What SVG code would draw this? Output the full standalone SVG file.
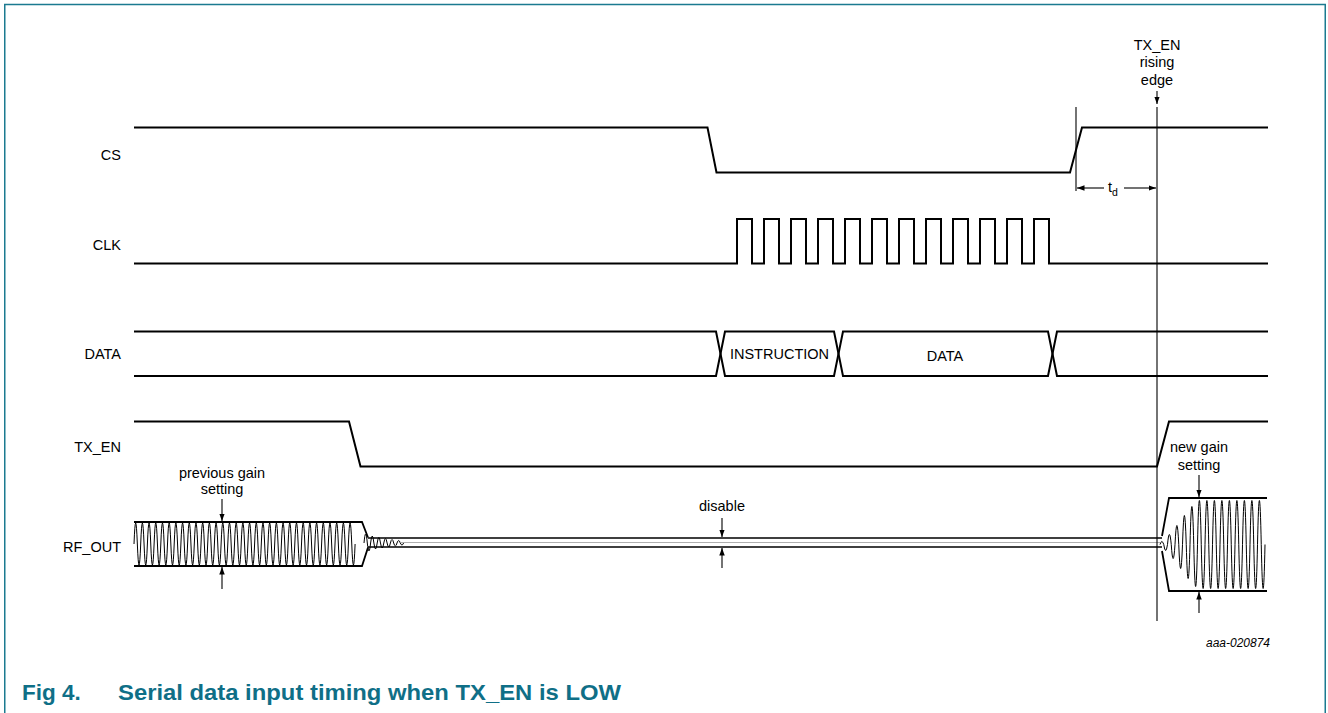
<svg xmlns="http://www.w3.org/2000/svg" width="1328" height="713" viewBox="0 0 1328 713">
<style>
.sig{fill:none;stroke:#000;stroke-width:2;stroke-linejoin:miter}
.thin{fill:none;stroke:#000;stroke-width:1.1}
.wave{fill:none;stroke:#000;stroke-width:1}
.env{fill:none;stroke:#000;stroke-width:1.8}
.dis{fill:none;stroke:#000;stroke-width:1.3}
.lbl{font-family:"Liberation Sans",Arial,Helvetica,sans-serif;font-size:14.5px;fill:#000}
.ctr{text-anchor:middle}
.end{text-anchor:end}
.arr{fill:none;stroke:#000;stroke-width:1.1;marker-end:url(#ah)}
.cap{font-family:"Liberation Sans",Arial,Helvetica,sans-serif;font-size:22.5px;font-weight:bold;fill:#0f6f87}
</style>
<defs>
<marker id="ah" markerUnits="userSpaceOnUse" markerWidth="8" markerHeight="6" refX="7.5" refY="2.75" orient="auto">
<path d="M0,0 L7.5,2.75 L0,5.5 z" fill="#000"/>
</marker>
</defs>
<rect width="1328" height="713" fill="#fff"/>
<path d="M4.75,713 V4.5 H1325.25 V713" fill="none" stroke="#1b7a90" stroke-width="1.5"/>

<g id="cs">
<text class="lbl end" x="121" y="160">CS</text>
<path class="sig" d="M134,127.5 H707.5 L716.5,172.5 H1070 L1082,127.5 H1268"/>
</g>

<g id="clk">
<text class="lbl end" x="121" y="250">CLK</text>
<path class="sig" d="M134,263.5 H737 V219 H752 V263.5 H764 V219 H779 V263.5 H791 V219 H806 V263.5 H818 V219 H833 V263.5 H845 V219 H860 V263.5 H872 V219 H887 V263.5 H899 V219 H914 V263.5 H926 V219 H941 V263.5 H953 V219 H968 V263.5 H980 V219 H995 V263.5 H1007 V219 H1022 V263.5 H1034 V219 H1049 V263.5 H1268"/>
</g>

<g id="data">
<text class="lbl end" x="121" y="359">DATA</text>
<path class="sig" d="M134,331.5 H716 L725,376 H834 L843,331.5 H1048 L1057,376 H1268"/>
<path class="sig" d="M134,376 H716 L725,331.5 H834 L843,376 H1048 L1057,331.5 H1268"/>
<text class="lbl ctr" x="779.5" y="358.5">INSTRUCTION</text>
<text class="lbl ctr" x="945" y="361">DATA</text>
</g>

<g id="tx_en">
<text class="lbl end" x="121" y="452">TX_EN</text>
<path class="sig" d="M134,421.5 H349 L360.5,466.5 H1157 L1169,421.5 H1268"/>
</g>

<g id="rf_out">
<text class="lbl end" x="121" y="552">RF_OUT</text>
<path class="env" d="M134,522 H362 L368,537.5"/>
<path class="env" d="M134,566 H362 L368,547.5"/>
<path class="wave" d="M134,544 q1.675,-42 3.35,0 t3.35,0 t3.35,0 t3.35,0 t3.35,0 t3.35,0 t3.35,0 t3.35,0 t3.35,0 t3.35,0 t3.35,0 t3.35,0 t3.35,0 t3.35,0 t3.35,0 t3.35,0 t3.35,0 t3.35,0 t3.35,0 t3.35,0 t3.35,0 t3.35,0 t3.35,0 t3.35,0 t3.35,0 t3.35,0 t3.35,0 t3.35,0 t3.35,0 t3.35,0 t3.35,0 t3.35,0 t3.35,0 t3.35,0 t3.35,0 t3.35,0 t3.35,0 t3.35,0 t3.35,0 t3.35,0 t3.35,0 t3.35,0 t3.35,0 t3.35,0 t3.35,0 t3.35,0 t3.35,0 t3.35,0 t3.35,0 t3.35,0 t3.35,0 t3.35,0 t3.35,0 t3.35,0 t3.35,0 t3.35,0 t3.35,0 t3.35,0 t3.35,0 t3.35,0 t3.35,0 t3.35,0 t3.35,0 t3.35,0 t3.35,0 t3.35,0"/>
<path class="wave" d="M364,543 q1.65,-18 3.3,0 q1.65,16 3.3,0 q1.65,-14 3.3,0 q1.65,12 3.3,0 q1.65,-11 3.3,0 q1.65,10 3.3,0 q1.65,-9 3.3,0 q1.65,8 3.3,0 q1.65,-7 3.3,0 q1.65,6 3.3,0 q1.65,-5 3.3,0 q1.65,4 3.3,0"/>
<path class="dis" d="M368,538 H1162 M368,547 H1162"/>
<path d="M400,542.5 H1160" fill="none" stroke="#9a9a9a" stroke-width="0.8"/>
<path class="env" d="M1162,536 L1169,498 H1267"/>
<path class="env" d="M1162,551 L1169,591 H1267"/>
<path class="wave" d="M1160,544.5 q1.875,-6 3.75,0 q1.875,12 3.75,0 q1.875,-20 3.75,0 q1.875,28 3.75,0 q1.875,-38 3.75,0 q1.875,48 3.75,0 q1.875,-58 3.75,0 q1.875,68 3.75,0 q1.875,-76 3.75,0 q1.875,84 3.75,0 q1.875,-88 3.75,0 t3.75,0 t3.75,0 t3.75,0 t3.75,0 t3.75,0 t3.75,0 t3.75,0 t3.75,0 t3.75,0 t3.75,0 t3.75,0 t3.75,0 t3.75,0 t3.75,0 t3.75,0 t3.75,0 t3.75,0"/>
<text class="lbl ctr" x="222" y="478">previous gain</text>
<text class="lbl ctr" x="222" y="494">setting</text>
<text class="lbl ctr" x="722" y="511">disable</text>
<text class="lbl ctr" x="1199" y="452">new gain</text>
<text class="lbl ctr" x="1199" y="470">setting</text>
</g>

<g id="tx_en_edge">
<text class="lbl ctr" x="1157" y="49.5">TX_EN</text>
<text class="lbl ctr" x="1157" y="67">rising</text>
<text class="lbl ctr" x="1157" y="84.5">edge</text>
<text class="lbl" x="1108" y="192">t<tspan font-size="10.5" dy="4">d</tspan></text>
</g>

<g id="connectors">
<path class="thin" d="M1076,107 V191"/>
<path class="thin" d="M1157,107 V621"/>
<path class="arr" d="M1157,91 V104"/>
<path class="arr" d="M1104,188 H1077"/>
<path class="arr" d="M1124,188 H1156"/>
<path class="arr" d="M222,499 V521"/>
<path class="arr" d="M222,589 V567"/>
<path class="arr" d="M722,518 V537"/>
<path class="arr" d="M722,568 V548"/>
<path class="arr" d="M1199,475 V497"/>
<path class="arr" d="M1199,613 V592"/>
</g>

<text x="1238" y="647" font-family="'Liberation Sans',Arial,sans-serif" font-size="12" font-style="italic" text-anchor="middle" fill="#000">aaa-020874</text>
<text class="cap" x="22" y="700">Fig 4.</text>
<text class="cap" x="118" y="700" textLength="503" lengthAdjust="spacingAndGlyphs">Serial data input timing when TX_EN is LOW</text>
</svg>
